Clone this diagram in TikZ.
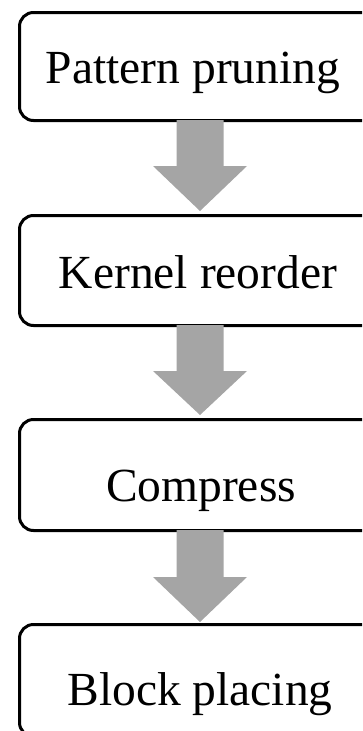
\documentclass[tikz,border=0pt]{standalone}
\usepackage{fontspec}
\setmainfont{Liberation Serif}
\usetikzlibrary{calc}
\definecolor{arrowgray}{HTML}{A5A5A5}
\tikzset{
  stepbox/.style={draw=black, line width=3pt, rounded corners=14pt, fill=white},
  steptext/.style={anchor=base, inner sep=0pt, font=\fontsize{47.5}{52}\selectfont},
  fatarrow/.style={fill=arrowgray, draw=none}
}
\begin{document}
\begin{tikzpicture}[x=1pt, y=-1pt]
\useasboundingbox (0,0) rectangle (362,731);
\clip (0,0) rectangle (362,731);
% boxes
\node[stepbox, minimum width=364pt, minimum height=108pt, anchor=north west] (b1) at (18,11) {};
\node[stepbox, minimum width=364pt, minimum height=110pt, anchor=north west] (b2) at (18,214) {};
\node[stepbox, minimum width=364pt, minimum height=111pt, anchor=north west] (b3) at (18,418) {};
\node[stepbox, minimum width=364pt, minimum height=112pt, anchor=north west] (b4) at (18,623) {};
% texts
\node[steptext] (t1) at (193,83) {Pattern pruning};
\node[steptext] (t2) at (198,288) {Kernel reorder};
\node[steptext] (t3) at (201,501) {Compress};
\node[steptext] (t4) at (200,705) {Block placing};
% arrows
\coordinate (a1s) at (200,120);
\coordinate (a1t) at (200,211);
\coordinate (a2s) at (200,325);
\coordinate (a2t) at (200,415);
\coordinate (a3s) at (200,530);
\coordinate (a3t) at (200,622);
\foreach \s/\t/\h in {a1s/a1t/166, a2s/a2t/371, a3s/a3t/577}{
  \fill[fatarrow] ($(\s)+(-23.5,0)$) -- ($(\s)+(23.5,0)$) -- ($(\s |- 0,\h)+(23.5,0)$)
    -- ($(\s |- 0,\h)+(47,0)$) -- (\t) -- ($(\s |- 0,\h)+(-47,0)$) -- ($(\s |- 0,\h)+(-23.5,0)$) -- cycle;
}
\end{tikzpicture}
\end{document}
